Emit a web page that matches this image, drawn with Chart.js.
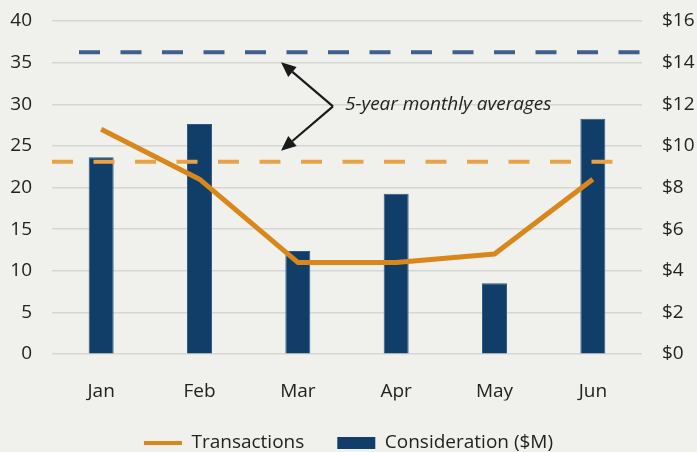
<!DOCTYPE html>
<html><head><meta charset="utf-8">
<script src="https://cdn.jsdelivr.net/npm/chart.js@4.4.1/dist/chart.umd.min.js"></script>
<style>html,body{margin:0;padding:0;background:#F0F0EC;overflow:hidden}#wrap{width:697px;height:452px;position:relative}</style>
</head><body><div id="wrap"><canvas id="c" width="697" height="452"></canvas></div>
<script>
const months = ['Jan', 'Feb', 'Mar', 'Apr', 'May', 'Jun'];
const transactions = [27, 21, 11, 11, 12, 21];
const consideration = [9.45, 11.05, 4.95, 7.7, 3.4, 11.3];
const avgTransactions = 23.1;
const avgConsideration = 14.5;
const leftMax = 40, leftStep = 5;
const rightMax = 16, rightStep = 2;
const annotationText = '5-year monthly averages';
const seriesNames = ['Transactions', 'Consideration ($M)'];

const FONT = "'Open Sans', sans-serif";
const ORANGE = '#D9861A', NAVY = '#103E68', BLUE_DASH = '#3F5F8C', ORANGE_DASH = '#E9A346';

const averagesPlugin = {
  id: 'averages',
  afterDatasetDraw(chart, args) {
    if (args.index !== 1) return;
    const ctx = chart.ctx, a = chart.chartArea;
    const yB = chart.scales.y1.getPixelForValue(avgConsideration);
    const yO = chart.scales.y.getPixelForValue(avgTransactions);
    ctx.save();
    ctx.lineWidth = 4; ctx.lineCap = 'butt';
    ctx.setLineDash([21, 20.5]);
    ctx.strokeStyle = BLUE_DASH;
    ctx.beginPath(); ctx.moveTo(a.left + 27, yB); ctx.lineTo(a.right, yB); ctx.stroke();
    ctx.strokeStyle = ORANGE_DASH;
    ctx.beginPath(); ctx.moveTo(a.left, yO); ctx.lineTo(a.right - 28, yO); ctx.stroke();
    ctx.restore();
  },
  afterDraw(chart) {
    const ctx = chart.ctx, a = chart.chartArea;
    const yB = chart.scales.y1.getPixelForValue(avgConsideration);
    const yO = chart.scales.y.getPixelForValue(avgTransactions);
    const tipX = a.left + 229;
    const t1 = {x: tipX, y: yB + 10}, t2 = {x: tipX, y: yO - 11};
    const v = {x: a.left + 281, y: (t1.y + t2.y) / 2};
    ctx.save();
    ctx.strokeStyle = '#1a1a1a'; ctx.fillStyle = '#1a1a1a'; ctx.lineWidth = 2.2;
    function arrow(t) {
      const ang = Math.atan2(t.y - v.y, t.x - v.x);
      const L = 15, W = 6.5;
      const bx = t.x - L * Math.cos(ang), by = t.y - L * Math.sin(ang);
      ctx.beginPath(); ctx.moveTo(v.x, v.y); ctx.lineTo(bx, by); ctx.stroke();
      ctx.beginPath(); ctx.moveTo(t.x, t.y);
      ctx.lineTo(bx + W * Math.sin(ang), by - W * Math.cos(ang));
      ctx.lineTo(bx - W * Math.sin(ang), by + W * Math.cos(ang));
      ctx.closePath(); ctx.fill();
    }
    arrow(t1); arrow(t2);
    ctx.font = "italic 19px " + FONT;
    ctx.textBaseline = 'middle'; ctx.textAlign = 'left';
    ctx.fillStyle = '#222';
    ctx.fillText(annotationText, v.x + 12, v.y - 2);
    ctx.restore();
  }
};

function fixY(width) {
  return function (s) { s.width = width; s.paddingTop = 0; s.paddingBottom = 0; };
}

new Chart(document.getElementById('c'), {
  data: {
    labels: months,
    datasets: [
      { type: 'line', label: seriesNames[0], data: transactions, yAxisID: 'y',
        borderColor: ORANGE, backgroundColor: ORANGE, borderWidth: 5, pointRadius: 0,
        tension: 0, order: 1, borderJoinStyle: 'round' },
      { type: 'bar', label: seriesNames[1], data: consideration, yAxisID: 'y1',
        backgroundColor: NAVY, borderColor: '#2f5a82', borderWidth: 1,
        categoryPercentage: 1, barPercentage: 0.254, order: 2 }
    ]
  },
  options: {
    responsive: false, animation: false, devicePixelRatio: 1,
    layout: { padding: { top: 21, bottom: 0 } },
    plugins: {
      tooltip: { enabled: false },
      legend: {
        position: 'bottom', maxHeight: 51.5,
        labels: {
          font: { family: FONT, size: 19 }, color: '#222', padding: 33,
          usePointStyle: true, pointStyleWidth: 38, boxHeight: 12,
          generateLabels(chart) {
            return chart.data.datasets.map((d, i) => ({
              text: d.label, datasetIndex: i,
              fillStyle: d.backgroundColor, strokeStyle: i === 0 ? ORANGE : NAVY,
              lineWidth: i === 0 ? 4 : 0, pointStyle: i === 0 ? 'line' : 'rect',
              fontColor: '#222', hidden: false
            }));
          }
        }
      }
    },
    scales: {
      x: {
        afterFit(s) { s.height = 46.5; },
        grid: { display: false, drawTicks: false }, border: { display: false },
        ticks: { font: { family: FONT, size: 19 }, color: '#222', padding: 26 }
      },
      y: {
        position: 'left', min: 0, max: leftMax,
        afterFit: fixY(52),
        grid: { color: '#D6D6D2', lineWidth: 1.5, drawTicks: false }, border: { display: false },
        ticks: { stepSize: leftStep, font: { family: FONT, size: 19 }, color: '#222', padding: 20 }
      },
      y1: {
        position: 'right', min: 0, max: rightMax,
        afterFit: fixY(55),
        grid: { drawOnChartArea: false, drawTicks: false }, border: { display: false },
        ticks: { stepSize: rightStep, font: { family: FONT, size: 19 }, color: '#222', padding: 20,
          callback: v => '$' + v }
      }
    }
  },
  plugins: [averagesPlugin]
});
</script></body></html>
